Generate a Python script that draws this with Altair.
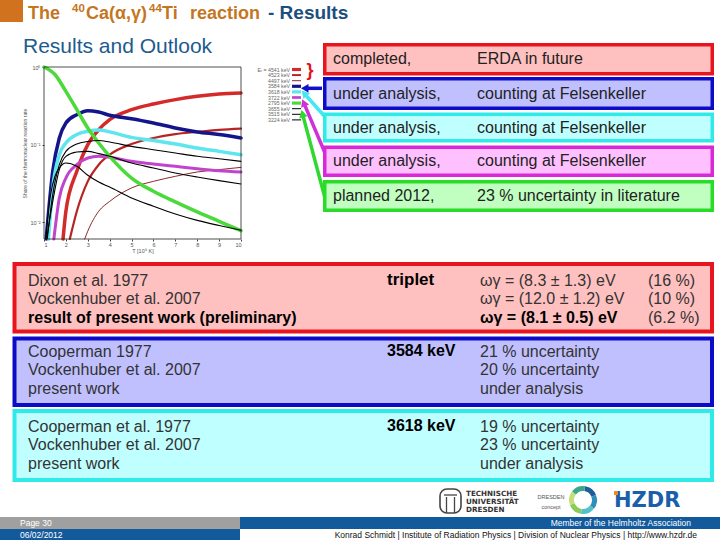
import math
import altair as alt
import pandas as pd

# ---------------- data ----------------
series_labels = ["4541 keV", "4523 keV", "4497 keV", "3584 keV", "3618 keV",
                 "3722 keV", "2795 keV", "3655 keV", "3515 keV", "3224 keV"]

t_4541 = [1.87, 2.0, 2.5, 3, 3.5, 4, 5, 6, 7, 8, 9, 10]
v_4541 = [0.0061, 0.0139, 0.0454, 0.100, 0.156, 0.210, 0.282, 0.334, 0.380, 0.419, 0.449, 0.463]
t_4523 = [2.18, 2.5, 3, 3.5, 4, 5, 6, 7, 8, 9, 10]
v_4523 = [0.0061, 0.0139, 0.0337, 0.0552, 0.0743, 0.102, 0.122, 0.137, 0.146, 0.155, 0.161]
t_4497 = [2.86, 3, 3.5, 4, 5, 6, 7, 8, 9, 10]
v_4497 = [0.0061, 0.0077, 0.0139, 0.0186, 0.0277, 0.0337, 0.0391, 0.0445, 0.0477, 0.051]
t_3584 = [1.1, 1.4, 1.7, 2, 2.5, 3, 3.5, 4, 5, 6, 7, 8, 9, 10]
v_3584 = [0.0061, 0.0454, 0.122, 0.190, 0.243, 0.274, 0.263, 0.239, 0.216, 0.190, 0.164, 0.146, 0.135, 0.122]
t_3618 = [1.2, 1.4, 1.7, 2, 2.5, 3, 3.5, 4, 5, 6, 7, 8, 9, 10]
v_3618 = [0.0061, 0.0277, 0.0743, 0.105, 0.135, 0.149, 0.155, 0.146, 0.124, 0.113, 0.102, 0.0906, 0.082, 0.0743]
t_3722 = [1.45, 1.7, 2, 2.5, 3, 3.5, 4, 5, 6, 7, 8, 9, 10]
v_3722 = [0.0061, 0.0206, 0.0372, 0.0552, 0.0673, 0.0708, 0.0687, 0.061, 0.0564, 0.0526, 0.0491, 0.0463, 0.0445]
t_2795 = [1, 1.5, 2, 2.5, 3, 3.5, 4, 5, 6, 7, 8, 9, 10]
v_2795 = [1.0, 0.80, 0.486, 0.282, 0.164, 0.105, 0.0708, 0.0372, 0.0251, 0.0183, 0.0136, 0.0103, 0.0078]
t_3655 = [1.15, 1.4, 1.7, 2, 2.5, 3, 3.5, 4, 5, 6, 7, 8, 9, 10]
v_3655 = [0.0061, 0.0227, 0.0552, 0.082, 0.102, 0.110, 0.113, 0.108, 0.095, 0.0862, 0.0781, 0.0708, 0.066, 0.061]
t_3515 = [1.12, 1.4, 1.7, 2, 2.5, 3, 3.5, 4, 5, 6, 7, 8, 9, 10]
v_3515 = [0.0061, 0.0186, 0.0477, 0.0708, 0.0805, 0.082, 0.0766, 0.0708, 0.058, 0.0501, 0.0432, 0.0383, 0.0344, 0.0312]
t_3224 = [1.08, 1.3, 1.5, 1.7, 2, 2.5, 3, 3.5, 4, 5, 6, 7, 8, 9, 10]
v_3224 = [0.0061, 0.0227, 0.0391, 0.0501, 0.058, 0.0526, 0.0403, 0.033, 0.0285, 0.0206, 0.0161, 0.0128, 0.0106, 0.0091, 0.0079]

T_lists = [t_4541, t_4523, t_4497, t_3584, t_3618, t_3722, t_2795, t_3655, t_3515, t_3224]
V_lists = [v_4541, v_4523, v_4497, v_3584, v_3618, v_3722, v_2795, v_3655, v_3515, v_3224]

x_ticks = [1, 2, 3, 4, 5, 6, 7, 8, 9, 10]
y_ticks = [0.01, 0.1, 1]
y_min = 0.0061

status_col1 = ["completed,", "under analysis,", "under analysis,", "under analysis,", "planned 2012,"]
status_col2 = ["ERDA in future", "counting at Felsenkeller", "counting at Felsenkeller",
               "counting at Felsenkeller", "23 % uncertainty in literature"]

triplet_refs = ["Dixon et al. 1977", "Vockenhuber et al. 2007", "result of present work (preliminary)"]
triplet_vals = ["ωγ = (8.3 ± 1.3) eV", "ωγ = (12.0 ± 1.2) eV", "ωγ = (8.1 ± 0.5) eV"]
triplet_pct = ["(16 %)", "(10 %)", "(6.2 %)"]
r3584_refs = ["Cooperman 1977", "Vockenhuber et al. 2007", "present work"]
r3584_vals = ["21 % uncertainty", "20 % uncertainty", "under analysis"]
r3618_refs = ["Cooperman et al. 1977", "Vockenhuber et al. 2007", "present work"]
r3618_vals = ["19 % uncertainty", "23 % uncertainty", "under analysis"]

# ---------------- styles / layout ----------------
W, H = 720, 540
PX0, PX1 = 44, 241
PY_TOP, PY_BOT = 67, 239
FONT = "Liberation Sans"

line_style = {
    "4541 keV": ("#D42A2A", 3.5), "4523 keV": ("#B82323", 2.2), "4497 keV": ("#8B2A2A", 1.0),
    "3584 keV": ("#14148C", 3.5), "3618 keV": ("#5EE6EE", 3.5), "3722 keV": ("#C044CC", 3.0),
    "2795 keV": ("#4CD93A", 3.5), "3655 keV": ("#000000", 1.1), "3515 keV": ("#000000", 1.1),
    "3224 keV": ("#000000", 1.1),
}

one = pd.DataFrame({"k": [0]})
layers = []


def text(x, y, s, size=16, color="#2a2a2a", weight="normal", align="left",
         baseline="middle", font=FONT, angle=0):
    return alt.Chart(one).mark_text(text=s, fontSize=size, color=color, fontWeight=weight,
                                    align=align, baseline=baseline, font=font,
                                    angle=angle).encode(x=alt.value(x), y=alt.value(y))


def rect(x1, y1, x2, y2, fill=None, stroke=None, sw=0, radius=0):
    kw = {"fill": fill if fill is not None else "transparent"}
    if stroke is not None:
        kw["stroke"] = stroke
        kw["strokeWidth"] = sw
    if radius:
        kw["cornerRadius"] = radius
    return alt.Chart(one).mark_rect(**kw).encode(
        x=alt.value(x1), x2=alt.value(x2), y=alt.value(y1), y2=alt.value(y2))


def box(x1, y1, x2, y2, fill, stroke, sw):
    h = sw / 2
    return rect(x1 + h, y1 + h, x2 - h, y2 - h, fill=fill, stroke=stroke, sw=sw)


def seg(x1, y1, x2, y2, color, sw):
    return alt.Chart(one).mark_rule(color=color, strokeWidth=sw).encode(
        x=alt.value(x1), y=alt.value(y1), x2=alt.value(x2), y2=alt.value(y2))


# ---------------- inset plot ----------------
rows = []
for lab, ts, vs in zip(series_labels, T_lists, V_lists):
    rows += [{"series": lab, "T": t, "share": v} for t, v in zip(ts, vs)]
df = pd.DataFrame(rows)

xenc = alt.X("T:Q", scale=alt.Scale(domain=[1, 10], range=[PX0, PX1], nice=False, zero=False),
             axis=alt.Axis(orient="bottom", offset=-(H - PY_BOT), values=x_ticks, format="d",
                           labelFontSize=5.5, labelColor="#555", labelFont=FONT, tickSize=2,
                           tickColor="#444", domain=False, grid=False, labelPadding=1,
                           title="T [10⁹ K]", titleFontSize=5.5, titleFontWeight="normal",
                           titleColor="#555", titleFont=FONT, titlePadding=1))
yenc = alt.Y("share:Q", scale=alt.Scale(type="log", domain=[y_min, 1], range=[PY_BOT, PY_TOP], nice=False),
             axis=alt.Axis(orient="left", offset=-PX0, values=y_ticks,
                           labelExpr="datum.value >= 1 ? '10⁰' : (datum.value >= 0.1 ? '10⁻¹' : '10⁻²')",
                           labelFontSize=5.5, labelColor="#555", labelFont=FONT, tickSize=2,
                           tickColor="#444", domain=False, grid=False, labelPadding=2,
                           title="Share of the thermonuclear reaction rate", titleFontSize=5,
                           titleFontWeight="normal", titleColor="#555", titleFont=FONT,
                           titlePadding=3))

for lab in series_labels:
    c, w = line_style[lab]
    layers.append(
        alt.Chart(df).transform_filter(alt.datum.series == lab)
        .mark_line(interpolate="monotone", color=c, strokeWidth=w, strokeCap="round")
        .encode(x=xenc, y=yenc, order="T:Q")
    )

layers.append(rect(PX0, PY_TOP, PX1, PY_BOT, stroke="#222", sw=0.8))

# legend of the inset
for i, lab in enumerate(series_labels):
    yy = 69.5 + i * 5.6
    c, w = line_style[lab]
    s = ("E\u1d63 = " + lab) if i == 0 else lab
    layers.append(text(290, yy, s, size=5.2, color="#666", align="right"))
    layers.append(seg(292, yy, 301, yy, c, max(1.0, w * 0.9)))

# bracket and arrows
layers.append(text(310, 71, "}", size=18, color="#E0141E", weight="bold", align="center"))
arrows = [("#1010C8", 322, 88.3, 303, 88.3),
          ("#44E8F0", 326, 118, 303, 92),
          ("#D030D8", 325, 153, 303, 101),
          ("#30D830", 325, 198, 302, 112)]
for c, tx, ty, hx, hy in arrows:
    dx, dy = hx - tx, hy - ty
    L = math.hypot(dx, dy)
    ux, uy = dx / L, dy / L
    ang = (math.degrees(math.atan2(dx, -dy)) + 360) % 360
    layers.append(seg(tx, ty, hx - ux * 5, hy - uy * 5, c, 3.5))
    layers.append(alt.Chart(one).mark_point(shape="triangle", filled=True, size=75, color=c,
                                            opacity=1, angle=ang)
                  .encode(x=alt.value(hx - ux * 3), y=alt.value(hy - uy * 3)))

# ---------------- status boxes (top right) ----------------
status_fill = ["#FFC0C0", "#C0C0FF", "#C0FFFF", "#FFC0FF", "#C0FFC0"]
status_stroke = ["#E8141E", "#0C0CC8", "#30EAEA", "#D828D8", "#28DC28"]
status_y = [(43, 75.5), (77, 110), (112.5, 142.5), (145.5, 177), (180, 212)]
for (y1, y2), f, s, c1, c2 in zip(status_y, status_fill, status_stroke, status_col1, status_col2):
    layers.append(box(323, y1, 714, y2, f, s, 3.5))
    ym = (y1 + y2) / 2
    layers.append(text(333, ym, c1, size=16, color="#222"))
    layers.append(text(477, ym, c2, size=16, color="#222"))

# ---------------- bottom result boxes ----------------
layers.append(box(12.5, 262, 714, 333.5, "#FFC0C0", "#E8141E", 4))
layers.append(box(12.5, 336.5, 714, 407, "#C0C0FF", "#0C0CC8", 4))
layers.append(box(12.5, 409, 714, 482, "#C0FFFF", "#30EAEA", 4))

ys_red = [281, 299, 317.5]
ys_blue = [351.5, 370, 389]
ys_cyan = [426.5, 445, 463.5]
for i in range(3):
    bold = "bold" if i == 2 else "normal"
    col = "#000" if i == 2 else "#333"
    layers.append(text(28, ys_red[i], triplet_refs[i], size=16, weight=bold, color=col))
    layers.append(text(480, ys_red[i], triplet_vals[i], size=16, weight=bold, color=col))
    layers.append(text(648, ys_red[i], triplet_pct[i], size=16, color="#333"))
    layers.append(text(28, ys_blue[i], r3584_refs[i], size=16, color="#333"))
    layers.append(text(480, ys_blue[i], r3584_vals[i], size=16, color="#333"))
    layers.append(text(28, ys_cyan[i], r3618_refs[i], size=16, color="#333"))
    layers.append(text(480, ys_cyan[i], r3618_vals[i], size=16, color="#333"))
layers.append(text(387, 280, "triplet", size=17, weight="bold", color="#000"))
layers.append(text(387, 351, "3584 keV", size=16, weight="bold", color="#000"))
layers.append(text(387, 426, "3618 keV", size=16, weight="bold", color="#000"))

# ---------------- logos ----------------
layers.append(rect(440, 489, 461, 513, stroke="#444", sw=1.6, radius=7))
layers.append(seg(446.5, 497, 446.5, 513, "#444", 1.3))
layers.append(seg(454.5, 497, 454.5, 513, "#444", 1.3))
layers.append(seg(444, 495, 457, 495, "#444", 1.3))
for k, s in enumerate(["TECHNISCHE", "UNIVERSITÄT", "DRESDEN"]):
    layers.append(text(466, 493.5 + k * 8.2, s, size=7.2, weight="bold", color="#333",
                       font="DejaVu Sans"))
layers.append(text(551, 497, "DRESDEN", size=5.5, color="#555", align="center"))
layers.append(text(551, 507, "concept", size=5.5, color="#555", align="center"))
ring = ["#1F5C99", "#2E8FBF", "#53C1C9", "#8ACB5A", "#C3DE7C", "#3AA68C"]
for k, c in enumerate(ring):
    t0 = k * 2 * math.pi / 6 + 0.15
    layers.append(alt.Chart(one).mark_arc(radius=14, radius2=9, theta=t0, theta2=t0 + 2 * math.pi / 6,
                                          color=c).encode(x=alt.value(583), y=alt.value(500)))
layers.append(text(614, 501, "HZDR", size=21, weight="bold", color="#1B5FAA", font="DejaVu Sans"))
layers.append(rect(614, 491, 618, 495, fill="#F08A1C"))

# ---------------- footer ----------------
layers.append(rect(0, 517, 240, 529, fill="#A0A0A0"))
layers.append(rect(240, 517, 720, 529, fill="#135A9C"))
layers.append(rect(0, 529, 240, 540, fill="#135A9C"))
layers.append(text(20, 523, "Page 30", size=8.5, color="white"))
layers.append(text(20, 534.5, "06/02/2012", size=8.5, color="white"))
layers.append(text(691, 523, "Member of the Helmholtz Association", size=8.5, color="white", align="right"))
layers.append(text(697, 534.5, "Konrad Schmidt | Institute of Radiation Physics | Division of Nuclear Physics | http://www.hzdr.de",
                   size=8.5, color="#111", align="right"))

# ---------------- titles ----------------
TITLE_ORANGE = "#C4761F"
layers.append(rect(0, 0, 23, 22, fill="#D1721E"))
title_parts = [(28, "The", 18, 18.5), (72, "40", 11.5, 11.5), (86, "Ca(α,γ)", 18, 18.5),
               (149, "44", 11.5, 11.5), (162, "Ti", 18, 18.5), (190, "reaction", 18, 18.5)]
for tx, s, sz, by in title_parts:
    layers.append(text(tx, by, s, size=sz, weight="bold", color=TITLE_ORANGE, baseline="alphabetic"))
layers.append(text(268, 18.5, "- Results", size=19, weight="bold", color="#1B4F7E", baseline="alphabetic"))
layers.append(text(23, 53, "Results and Outlook", size=21, color="#1D5B8E", baseline="alphabetic"))

chart = alt.layer(*layers).properties(
    width=W, height=H, background="white", padding=0,
    autosize=alt.AutoSizeParams(type="none")
).configure_view(strokeWidth=0)

chart.save("out.html", embed_options={"renderer": "svg", "actions": False})
